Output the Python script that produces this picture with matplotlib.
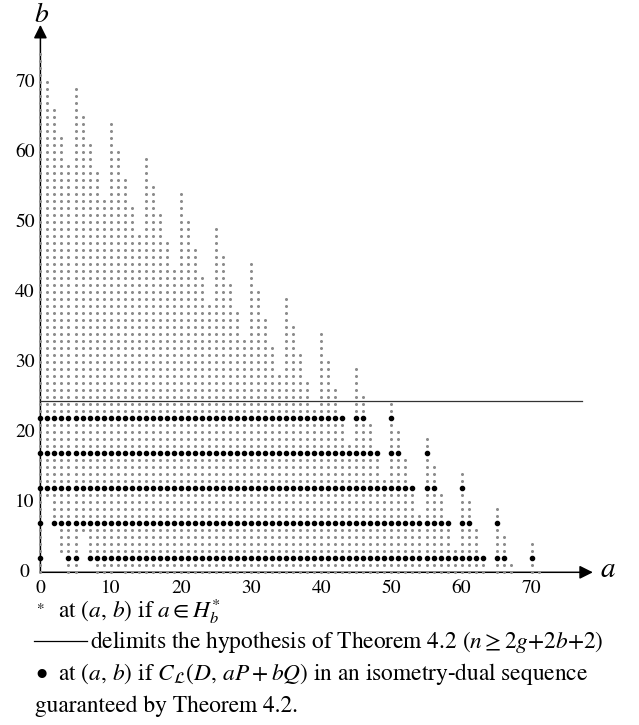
import matplotlib
matplotlib.use('Agg')
import matplotlib.pyplot as plt
from matplotlib.lines import Line2D

plt.rcParams['font.family'] = ['STIXGeneral', 'DejaVu Serif']
plt.rcParams['mathtext.fontset'] = 'stix'

# columns a = 0..71: highest and lowest b with a in H_b^*
a_vals = list(range(72))
col_top = [74, 70, 66, 62, 58,
           69, 65, 61, 57, 53,
           64, 60, 56, 52, 48,
           59, 55, 51, 47, 43,
           54, 50, 46, 42, 38,
           49, 45, 41, 37, 33,
           44, 40, 36, 32, 28,
           39, 35, 31, 27, 23,
           34, 30, 26, 22, 18,
           29, 25, 21, 17, 13,
           24, 20, 16, 12, 8,
           19, 15, 11, 7, 3,
           14, 10, 6, 2, -1,
           9, 5, 1, -1, -1,
           4, 0]
col_bottom = [0, 11, 7, 3, 0,
              0, 6, 2, 0, 0,
              0, 1] + [0] * 60

# rows whose points are in an isometry-dual sequence
dual_rows = [2, 7, 12, 17, 22]
hyp_b = 24.5

x_ticks = [0, 10, 20, 30, 40, 50, 60, 70]
y_ticks = [0, 10, 20, 30, 40, 50, 60, 70]

W, H = 639, 725
fig = plt.figure(figsize=(W / 100, H / 100), dpi=100)
ax = fig.add_axes([0.03027, 0.19131, 0.93380, 0.79172])
ax.set_xlim(-3, 82)
ax.set_ylim(-2, 80)
ax.axis('off')

gx, gy, bx, by = [], [], [], []
for a, lo, hi in zip(a_vals, col_bottom, col_top):
    for b in range(lo, hi + 1):
        if b in dual_rows:
            bx.append(a)
            by.append(b)
        else:
            gx.append(a)
            gy.append(b)

# axes with arrows
ax.annotate('', xy=(78.7, 0), xytext=(0, 0),
            arrowprops=dict(arrowstyle='-|>', color='black', lw=1.1,
                            mutation_scale=20, shrinkA=0, shrinkB=0), zorder=1)
ax.annotate('', xy=(0, 78.2), xytext=(0, 0),
            arrowprops=dict(arrowstyle='-|>', color='black', lw=1.1,
                            mutation_scale=20, shrinkA=0, shrinkB=0), zorder=1)
ax.plot([0, 77.2], [hyp_b, hyp_b], color='#333333', lw=0.9, zorder=1)

ax.plot(gx, gy, ls='none', marker=(6, 2, 0), ms=2.0, mew=0.6, color='#8c8c8c', zorder=2)
ax.plot(bx, by, ls='none', marker='o', ms=3.0, color='black', zorder=3)

for t in x_ticks:
    ax.text(t, -2.3, str(t), ha='center', va='center', fontsize=14)
for t in y_ticks:
    xpos = -1.6 if t == 0 else -0.8
    ax.text(xpos, t, str(t), ha='right', va='center', fontsize=14)

ax.text(79.7, 0.3, '$a$', ha='left', va='center', fontsize=21)
ax.text(0.1, 78.6, '$b$', ha='center', va='baseline', fontsize=20)


def fx(px):
    return px / W


def fy(py):
    return 1 - py / H


# caption
fs = 16.8
fig.text(fx(36), fy(607), '$*$', fontsize=11, va='center')
fig.text(fx(58), fy(611), r'at $(a,\, b)$ if $a \in H_b^{*}$', fontsize=fs, va='center')
fig.add_artist(Line2D([fx(34), fx(87)], [fy(641), fy(641)], color='black', lw=0.9,
                      transform=fig.transFigure))
fig.text(fx(90), fy(642), r'delimits the hypothesis of Theorem 4.2 ($n \geq 2g{+}2b{+}2$)',
         fontsize=fs, va='center')
fig.text(fx(35), fy(674), '\u2022', fontsize=fs, va='center')
fig.text(fx(58), fy(674), r'at $(a,\, b)$ if $C_{\mathcal{L}}(D,\, aP + bQ)$ in an isometry-dual sequence',
         fontsize=fs, va='center')
fig.text(fx(35), fy(706), 'guaranteed by Theorem 4.2.', fontsize=fs, va='center')

fig.savefig('out.png', dpi=100)
